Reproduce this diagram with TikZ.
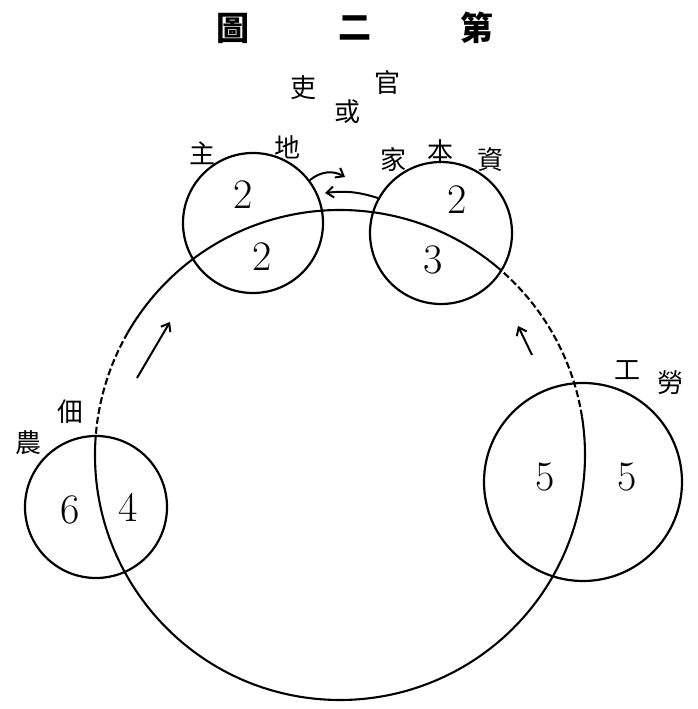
\documentclass[tikz,border=0pt]{standalone}
\usepackage{fontspec}
\usepackage{tikz}
\usetikzlibrary{arrows.meta}
\newfontfamily\cjk{Noto Sans CJK TC}

\begin{document}
\begin{tikzpicture}[x=1pt, y=1pt,
  grp/.style={draw, circle, line width=2.2pt, minimum size=#1, inner sep=0pt},
  ring/.style={line width=2.1pt},
  gap/.style={ring, dash pattern=on 7pt off 3pt},
  num/.style={font=\fontsize{42}{46}\selectfont, inner sep=0pt},
  lbl/.style={font=\cjk\fontsize{26}{28}\selectfont, inner sep=0pt},
  ttl/.style={font=\cjk\bfseries\fontsize{33}{35}\selectfont, inner sep=0pt},
  arr/.style={-{Straight Barb[length=7pt, width=11pt]}, line width=2pt}
]
\useasboundingbox (0,0) rectangle (697,709);
% title and the state on top
\node[ttl] (t1) at (233,681) {圖};
\node[ttl] (t2) at (355,681) {二};
\node[ttl] (t3) at (477,681) {第};
\node[lbl] (li) at (303,621) {吏};
\node[lbl] (huo) at (347,597) {或};
\node[lbl] (guan) at (387,626) {官};

% the big circle
\coordinate (ctr) at (340,254);
\draw[ring] (ctr) ++(49:245) arc[start angle=49, end angle=150, radius=245];
\draw[gap] (ctr) ++(150:245) arc[start angle=150, end angle=177, radius=245];
\draw[ring] (ctr) ++(177:245) arc[start angle=177, end angle=369, radius=245];
\draw[gap] (ctr) ++(9:245) arc[start angle=9, end angle=49, radius=245];

% the four classes
\node[grp=140pt] (land) at (253,486) {};
\node[grp=142pt] (cap) at (441,476) {};
\node[grp=142pt] (tenant) at (96,202) {};
\node[grp=198pt] (labour) at (583,227) {};

\node[num] (land1) at (243,514) {2};
\node[num] (land2) at (262,452) {2};
\node[num] (cap1) at (457,509) {2};
\node[num] (cap2) at (433,449) {3};
\node[num] (ten1) at (70,199) {6};
\node[num] (ten2) at (128,202) {4};
\node[num] (lab1) at (545,232) {5};
\node[num] (lab2) at (627,232) {5};

\node[lbl] (zhu) at (202,556) {主};
\node[lbl] (di) at (287,562) {地};
\node[lbl] (jia) at (393,549) {家};
\node[lbl] (ben) at (440,557) {本};
\node[lbl] (zi) at (490,549) {資};
\node[lbl] (dian) at (70,297) {佃};
\node[lbl] (nong) at (28,266) {農};
\node[lbl] (gong) at (627,339) {工};
\node[lbl] (lao) at (670,326) {勞};

% flows
\coordinate (upEnd) at (345,532);
\coordinate (lowEnd) at (325,516);
\coordinate (lfTail) at (137,331);
\coordinate (lfHead) at (170,387);
\coordinate (rtTail) at (532,354);
\coordinate (rtHead) at (518,383);
\draw[arr] (land.37) to[bend left=35] (upEnd);
\draw[arr] (cap.151) to[bend right=12] (lowEnd);
\draw[arr] (lfTail) -- (lfHead);
\draw[arr] (rtTail) -- (rtHead);
\end{tikzpicture}
\end{document}
